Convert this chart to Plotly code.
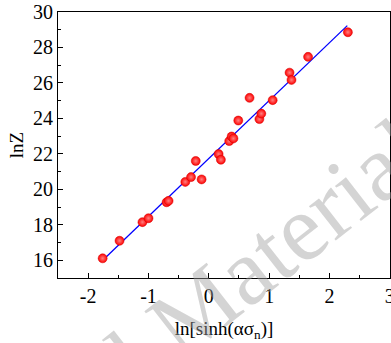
import plotly.graph_objects as go

# measured data
x_vals = [-1.76, -1.48, -1.10, -1.00, -0.70, -0.667, -0.39, -0.295, -0.12, -0.217,
          0.162, 0.20, 0.338, 0.378, 0.408, 0.488, 0.675, 0.838, 0.87, 1.058,
          1.338, 1.37, 1.645, 2.305]
y_vals = [16.11, 17.10, 18.15, 18.37, 19.27, 19.35, 20.42, 20.69, 20.56, 21.60,
          21.99, 21.67, 22.72, 22.98, 22.87, 23.88, 25.16, 23.96, 24.27, 25.03,
          26.58, 26.17, 27.47, 28.86]
fit_x = [-1.767, 2.295]
fit_y = [15.97, 29.23]

x_ticks = [-2, -1, 0, 1, 2, 3]
y_ticks = [16, 18, 20, 22, 24, 26, 28, 30]

FONT = "Liberation Serif, Times New Roman, serif"

fig = go.Figure()
fig.add_trace(go.Scatter(x=fit_x, y=fit_y, mode="lines",
                         line=dict(color="#0000ff", width=1.3), showlegend=False))
fig.add_trace(go.Scatter(x=x_vals, y=y_vals, mode="markers",
                         marker=dict(size=9, color="#ff0000",
                                     gradient=dict(type="radial", color="#ff8080"),
                                     line=dict(color="#d00000", width=0.5)),
                         showlegend=False))

fig.add_annotation(text="l Materials", xref="paper", yref="paper",
                   x=0.675, y=0.135, xanchor="center", yanchor="middle",
                   showarrow=False, textangle=-38,
                   font=dict(family=FONT, size=95, color="rgba(160,160,160,0.45)"))

axis_common = dict(showline=True, linecolor="black", linewidth=1.2, mirror=True,
                   ticks="inside", ticklen=5, tickwidth=1, tickcolor="black",
                   showgrid=False, zeroline=False, automargin=False,
                   tickfont=dict(family=FONT, size=20, color="black"))

fig.update_xaxes(range=[-2.5, 3.003], tickvals=x_ticks, ticktext=[str(t) for t in x_ticks],
                 ticklabeloverflow="allow",
                 minor=dict(ticks="inside", ticklen=3, dtick=0.5, tick0=0, tickcolor="black"),
                 title=dict(text="ln[sinh(ασ<sub>n</sub>)]", font=dict(family=FONT, size=19, color="black"),
                            standoff=15),
                 **axis_common)
fig.update_yaxes(range=[15, 30], tickvals=y_ticks, ticktext=[str(t) for t in y_ticks],
                 minor=dict(ticks="inside", ticklen=3, dtick=1, tick0=0, tickcolor="black"),
                 title=dict(text="lnZ", font=dict(family=FONT, size=19, color="black"),
                            standoff=4),
                 **axis_common)

fig.update_layout(width=391, height=343, margin=dict(l=58, r=1, t=12, b=65),
                  plot_bgcolor="white", paper_bgcolor="white")

fig.write_html("out.html")
